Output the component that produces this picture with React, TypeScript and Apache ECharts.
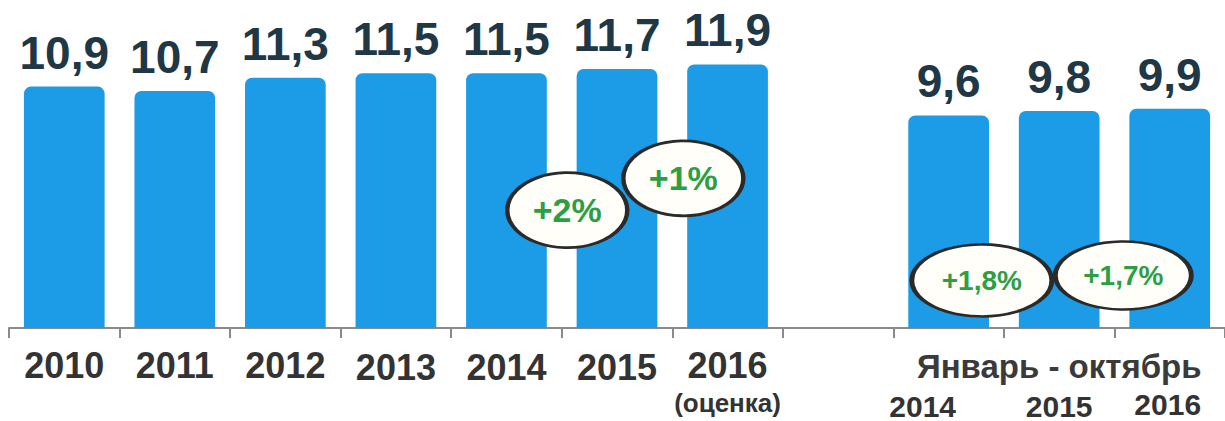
import React, { useEffect, useRef } from "react";
import * as echarts from "echarts";

const categories = ["2010", "2011", "2012", "2013", "2014", "2015", "2016", "", "2014", "2015", "2016"];
const values: (number | null)[] = [10.9, 10.7, 11.3, 11.5, 11.5, 11.7, 11.9, null, 9.6, 9.8, 9.9];
const valueLabels = ["10,9", "10,7", "11,3", "11,5", "11,5", "11,7", "11,9", "", "9,6", "9,8", "9,9"];
const periodLabel = "Январь - октябрь";
const estimateLabel = "(оценка)";

// growth bubbles: [x position in category units, y value, label, width, height, fontSize]
const growthX = [5.05, 6.1, 8.8, 10.08];
const growthY = [5.32, 6.76, 2.15, 2.37];
const growthText = ["+2%", "+1%", "+1,8%", "+1,7%"];
const growthW = [120, 120, 140, 136];
const growthH = [75, 75, 72, 68];
const growthFont = [34, 34, 28, 28];

export default function App() {
  const ref = useRef<HTMLDivElement>(null);
  useEffect(() => {
    if (!ref.current) return;
    const chart = echarts.init(ref.current, null, { renderer: "svg" });
    const font = "'Liberation Sans', Arial, sans-serif";
    chart.setOption({
      animation: false,
      grid: { left: 9, right: -7, top: 0, bottom: 90, containLabel: false },
      xAxis: [
        {
          type: "category",
          data: categories,
          boundaryGap: true,
          axisLine: { lineStyle: { color: "#8a8a8a", width: 2 } },
          axisTick: { show: true, length: 10, lineStyle: { color: "#8a8a8a", width: 2 } },
          axisLabel: {
            interval: 0,
            margin: 18,
            fontFamily: font,
            formatter: (v: string, i: number) => {
              if (i < 3) return `{y|${v}}`;
              if (i < 6) return `{yl|${v}}`;
              if (i === 6) return `{y|${v}}\n{s|${estimateLabel}}`;
              if (i === 8) return `{h| }\n{r8|${v}}`;
              if (i === 9) return `{h|${periodLabel}}\n{r|${v}}`;
              if (i === 10) return `{h| }\n{r10|${v}}`;
              return "";
            },
            rich: {
              y: { fontSize: 36, fontWeight: "bold", color: "#333333", fontFamily: font, lineHeight: 38 },
              yl: { fontSize: 36, fontWeight: "bold", color: "#333333", fontFamily: font, lineHeight: 38, padding: [5, 0, 0, 0] },
              s: { fontSize: 26, fontWeight: "bold", color: "#333333", fontFamily: font, lineHeight: 38 },
              h: { fontSize: 33, fontWeight: "bold", color: "#3a3a3a", fontFamily: font, lineHeight: 40 },
              r: { fontSize: 30, fontWeight: "bold", color: "#333333", fontFamily: font, lineHeight: 40 },
              r8: { fontSize: 30, fontWeight: "bold", color: "#333333", fontFamily: font, lineHeight: 40, padding: [0, 52, 0, 0] },
              r10: { fontSize: 30, fontWeight: "bold", color: "#333333", fontFamily: font, lineHeight: 36, padding: [0, 4, 0, 0] },
            },
          },
        },
        { type: "value", min: 0, max: 11, show: false },
      ],
      yAxis: { type: "value", min: 0, max: 14.81, show: false },
      series: [
        {
          type: "bar",
          xAxisIndex: 0,
          data: values,
          barWidth: "73%",
          itemStyle: { color: "#1c9be6", borderRadius: [7, 7, 0, 0] },
          label: {
            show: true,
            position: "top",
            distance: 11,
            fontSize: 46,
            fontWeight: "bold",
            fontFamily: font,
            color: "#203845",
            formatter: (p: any) => valueLabels[p.dataIndex],
          },
        },
        {
          type: "scatter",
          xAxisIndex: 1,
          symbol: "circle",
          z: 5,
          itemStyle: { color: "#fffef8", borderColor: "#2a2a2a", borderWidth: 3.5, opacity: 1 },
          data: growthText.map((t, i) => ({
            value: [growthX[i], growthY[i]],
            name: t,
            symbolSize: [growthW[i], growthH[i]],
            label: { fontSize: growthFont[i] },
          })),
          label: {
            show: true,
            position: "inside",
            fontWeight: "bold",
            fontFamily: font,
            color: "#2e9e44",
            formatter: (p: any) => p.name,
          },
        },
      ],
    });
    return () => chart.dispose();
  }, []);
  return (
    <div
      ref={ref}
      style={{ position: "fixed", left: 0, top: 0, width: 1225, height: 421, background: "#ffffff" }}
    />
  );
}
